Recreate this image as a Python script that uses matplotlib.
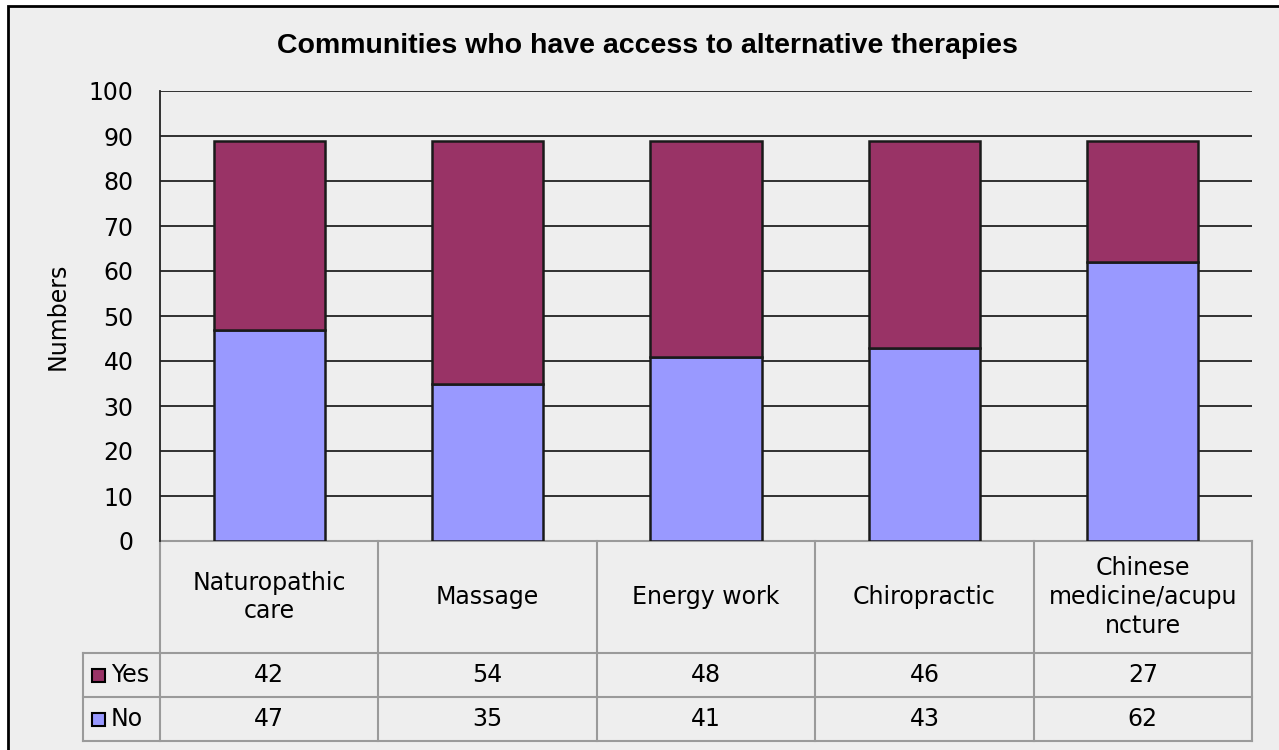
import matplotlib
matplotlib.use('Agg')
import matplotlib.pyplot as plt
from matplotlib.patches import Rectangle
from matplotlib.transforms import blended_transform_factory
import numpy as np

# data
categories = ['Naturopathic\ncare', 'Massage', 'Energy work', 'Chiropractic',
              'Chinese\nmedicine/acupu\nncture']
series_names = ['Yes', 'No']
yes_vals = [42, 54, 48, 46, 27]
no_vals = [47, 35, 41, 43, 62]
yes_color = '#993366'
no_color = '#9999FF'
bg = '#EEEEEE'
grid_gray = '#9A9A9A'

W, H = 1279, 750
plt.rcParams['font.family'] = ['DejaVu Sans']
fig = plt.figure(figsize=(W / 100, H / 100), dpi=100, facecolor='white')


def fx(px):
    return px / W


def fy(py):
    return 1 - py / H


# outer chart frame (cropped on the right and bottom)
fig.patches.append(Rectangle((fx(8), -0.05), 1.1, fy(6) + 0.05, transform=fig.transFigure,
                             facecolor=bg, edgecolor='black', lw=2, zorder=-5))

ax_w, ax_h = 1252 - 160, 541 - 91
ax = fig.add_axes([fx(160), fy(541), ax_w / W, ax_h / H])
ax.set_zorder(2)
ax.set_facecolor(bg)
x = np.arange(len(categories))
ax.bar(x, no_vals, width=0.51, color=no_color, edgecolor='#1a1a1a', lw=1.8, zorder=3)
ax.bar(x, yes_vals, bottom=no_vals, width=0.51, color=yes_color, edgecolor='#1a1a1a', lw=1.8, zorder=3)
ax.set_xlim(-0.5, len(categories) - 0.5)
ax.set_ylim(0, 100)
ax.set_yticks(range(0, 101, 10))
ax.set_xticks([])
ax.yaxis.grid(True, color='#222222', lw=1.3)
ax.set_axisbelow(True)
ax.tick_params(axis='y', length=0, pad=19, labelsize=17)
for s in ['top', 'right', 'bottom']:
    ax.spines[s].set_visible(False)
ax.spines['left'].set_color('#222222')
ax.spines['left'].set_linewidth(1.3)
ax.spines['left'].set_zorder(4)

fig.text(fx(647), fy(53), 'Communities who have access to alternative therapies',
         ha='center', va='baseline', fontsize=20.5, fontweight='bold',
         family=['Liberation Sans', 'DejaVu Sans'])
fig.text(fx(58), fy(316), 'Numbers', rotation=90, ha='center', va='center', fontsize=17)

# data table under the plot: x in data units, y in axes units
tr = blended_transform_factory(ax.transData, ax.transAxes)
head_h, row_h = 112 / ax_h, 44 / ax_h
y_rows = [0, -head_h, -head_h - row_h, -head_h - 2 * row_h]
x_lab = -0.5 - 77 / ax_w * len(categories)
line_kw = dict(color=grid_gray, lw=1.5, clip_on=False, transform=tr, zorder=1)
for yy in y_rows:
    x0 = -0.5 if yy == 0 else x_lab
    ax.plot([x0, len(categories) - 0.5], [yy, yy], **line_kw)
for j in range(len(categories) + 1):
    ax.plot([j - 0.5, j - 0.5], [0, y_rows[-1]], **line_kw)
ax.plot([x_lab, x_lab], [y_rows[1], y_rows[-1]], **line_kw)

for j, cat in enumerate(categories):
    ax.text(j, -head_h / 2, cat, transform=tr, ha='center', va='center', fontsize=17,
            linespacing=1.25, clip_on=False)
rows = [yes_vals, no_vals]
for i, vals in enumerate(rows):
    yc = (y_rows[i + 1] + y_rows[i + 2]) / 2
    for j, v in enumerate(vals):
        ax.text(j, yc, str(v), transform=tr, ha='center', va='center', fontsize=17, clip_on=False)

# legend keys inside the row-label cells
for i, (name, col) in enumerate(zip(series_names, [yes_color, no_color])):
    cy = 675 + i * 44
    fig.patches.append(Rectangle((fx(92), fy(cy + 7)), fx(13), 13 / H, transform=fig.transFigure,
                                 facecolor=col, edgecolor='black', lw=1.5, zorder=5))
    fig.text(fx(111), fy(cy), name, ha='left', va='center', fontsize=17, zorder=6)

fig.savefig('out.png', dpi=100, facecolor='white')
